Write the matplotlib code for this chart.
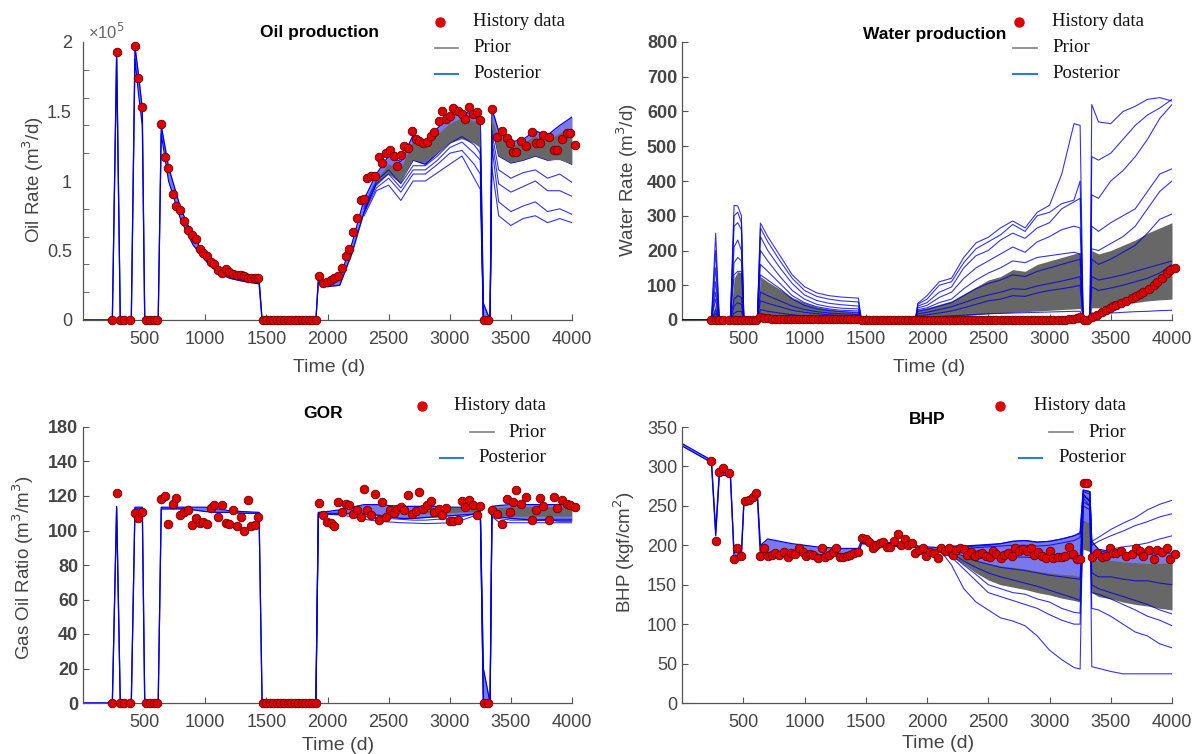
import numpy as np
import matplotlib
matplotlib.use("Agg")
import matplotlib.pyplot as plt
from matplotlib.lines import Line2D

nan = np.nan

# simulation output times (d), shared by every ensemble curve
t_sim = [0, 240, 275, 305, 395, 425, 455, 485, 505,
         615, 640, 700, 800, 900, 1000, 1100, 1200, 1300, 1440, 1465,
         1905, 1925, 2000, 2100, 2200, 2300, 2400, 2500, 2600, 2700, 2800, 2900, 3000, 3100, 3200, 3250,
         3275, 3330,
         3345, 3400, 3500, 3600, 3700, 3800, 3900, 4000]

# observed (history) report times (d)
hist_t = [240, 275, 303, 338, 385, 425, 452, 480, 515, 548,
          580, 608, 638, 672, 699, 734, 761, 794, 829, 862,
          889, 925, 957, 985, 1012, 1045, 1072, 1108, 1140, 1170,
          1198, 1230, 1257, 1290, 1317, 1347, 1375, 1407, 1434, 1470,
          1499, 1528, 1557, 1586, 1615, 1644, 1673, 1702, 1731, 1760,
          1789, 1818, 1847, 1876, 1905, 1931, 1967, 1994, 2027, 2056,
          2089, 2117, 2150, 2179, 2212, 2240, 2272, 2300, 2327, 2357,
          2390, 2422, 2449, 2480, 2512, 2540, 2567, 2600, 2629, 2662,
          2695, 2722, 2752, 2785, 2817, 2845, 2875, 2908, 2940, 2971,
          3003, 3030, 3066, 3099, 3126, 3159, 3189, 3222, 3249, 3282,
          3309, 3345, 3387, 3425, 3465, 3494, 3519, 3544, 3582, 3623,
          3670, 3708, 3739, 3761, 3811, 3849, 3881, 3918, 3959, 3981,
          4028]

# ---------------- oil rate (x1e5 m3/d) ----------------
oil_hist = [0, 1.93, 0, 0, 0, 1.97, 1.74, 1.535, 0, 0,
            0, 0, 1.41, 1.17, 1.09, 0.91, 0.82, 0.79, 0.71, 0.65,
            0.61, 0.58, 0.51, 0.48, 0.46, 0.415, 0.40, 0.36, 0.34, 0.37,
            0.345, 0.33, 0.325, 0.325, 0.32, 0.30, 0.30, 0.30, 0.30, 0,
            0, 0, 0, 0, 0, 0, 0, 0, 0, 0,
            0, 0, 0, 0, 0, 0.313, 0.265, 0.272, 0.29, 0.30,
            0.313, 0.373, 0.458, 0.51, 0.63, 0.735, 0.863, 0.867, 1.02, 1.036,
            1.036, 1.17, 1.13, 1.20, 1.22, 1.18, 1.11, 1.185, 1.25, 1.24,
            1.36, 1.30, 1.29, 1.27, 1.28, 1.325, 1.354, 1.43, 1.506, 1.446,
            1.47, 1.525, 1.506, 1.48, 1.446, 1.535, 1.48, 1.50, 1.44, 0,
            0, 1.518, 1.316, 1.36, 1.31, 1.27, 1.21, 1.21, 1.285, 1.25,
            1.35, 1.27, 1.27, 1.33, 1.32, 1.225, 1.225, 1.30, 1.345, 1.345,
            1.26]
oil_hi = [0, 0, 1.93, 0, 0, 1.97, 1.76, 1.52, 0,
          0, 1.40, 1.10, 0.80, 0.60, 0.47, 0.38, 0.34, 0.32, 0.30, 0,
          0, 0.30, 0.27, 0.31, 0.55, 0.87, 1.05, 1.18, 1.14, 1.33, 1.29, 1.38, 1.46, 1.50, 1.48, 1.45,
          0.12, 0,
          1.52, 1.36, 1.28, 1.30, 1.36, 1.33, 1.40, 1.46]
oil_lo = [0, 0, 1.88, 0, 0, 1.88, 1.62, 1.40, 0,
          0, 1.34, 1.00, 0.72, 0.54, 0.43, 0.34, 0.30, 0.28, 0.26, 0,
          0, 0.27, 0.24, 0.25, 0.48, 0.78, 0.98, 1.08, 1.00, 1.15, 1.12, 1.20, 1.28, 1.32, 1.28, 1.25,
          0, 0,
          1.40, 1.18, 1.13, 1.15, 1.18, 1.15, 1.16, 1.12]
oil_prior_hi = [nan] * 26 + [1.00, 1.12, 1.08, 1.28, 1.25, 1.33, 1.41, 1.45, 1.43, 1.40,
                             nan, nan, 1.45, 1.32, 1.25, 1.27, 1.32, 1.29, 1.34, 1.38]
oil_prior_lo = [nan] * 26 + [0.96, 1.05, 0.98, 1.15, 1.13, 1.20, 1.27, 1.30, 1.27, 1.24,
                             nan, nan, 1.38, 1.18, 1.13, 1.15, 1.18, 1.15, 1.15, 1.12]
oil_post = [
    [nan] * 25 + [0.75, 0.93, 0.97, 0.86, 1.00, 1.00, 1.06, 1.12, 1.18, 1.02, 0.94, 0, 0,
                  1.10, 0.75, 0.68, 0.73, 0.75, 0.70, 0.73, 0.70],
    [nan] * 25 + [0.77, 0.95, 1.02, 0.92, 1.05, 1.05, 1.12, 1.20, 1.22, 1.12, 1.05, 0, 0,
                  1.25, 0.85, 0.78, 0.82, 0.85, 0.78, 0.80, 0.76],
    [nan] * 25 + [0.80, 0.98, 1.05, 0.95, 1.08, 1.08, 1.15, 1.24, 1.28, 1.20, 1.15, 0, 0,
                  1.30, 0.98, 0.92, 0.96, 1.00, 0.93, 0.93, 0.89],
    [nan] * 25 + [0.82, 1.00, 1.08, 0.98, 1.11, 1.11, 1.18, 1.27, 1.32, 1.26, 1.20, 0, 0,
                  1.35, 1.08, 1.02, 1.06, 1.08, 1.02, 1.05, 0.99],
]

# ---------------- water rate (m3/d) ----------------
wat_hist = [0, 0, 0, 0, 0, 0, 0, 0, 0, 0,
            0, 0, 8, 6, 5, 4, 4, 3, 3, 2,
            2, 2, 2, 2, 2, 2, 2, 2, 2, 2,
            2, 2, 2, 2, 2, 2, 2, 2, 2, 0,
            0, 0, 0, 0, 0, 0, 0, 0, 0, 0,
            0, 0, 0, 0, 0, 1, 1, 1, 1, 1,
            1, 1, 1, 1, 1, 1, 1, 1, 1, 1,
            1, 1, 1, 1, 1, 1, 1, 1, 1, 1,
            1, 1, 1, 1, 1, 1, 1, 1, 1, 1,
            1, 1, 1, 1, 1, 2, 3, 5, 8, 0,
            0, 8, 15, 22, 30, 35, 40, 44, 50, 56,
            64, 70, 75, 80, 90, 100, 108, 120, 135, 145,
            150]
wat_prior_hi = [0, 0, 50, 0, 0, 120, 140, 135, 0,
                0, 125, 110, 88, 65, 50, 38, 32, 27, 23, 0,
                0, 30, 35, 45, 55, 75, 95, 115, 125, 145, 140, 160, 170, 180, 190, 195,
                0, 0,
                200, 190, 200, 215, 230, 250, 265, 280]
wat_prior_lo = [0, 0, 5, 0, 0, 10, 10, 10, 0,
                0, 15, 12, 10, 8, 6, 5, 5, 4, 4, 0,
                0, 5, 6, 8, 10, 12, 15, 18, 20, 22, 24, 26, 28, 30, 32, 33,
                0, 0,
                35, 35, 40, 45, 50, 55, 58, 60]
wat_post = [
    [0, 0, 250, 0, 0, 330, 328, 300, 0,
     0, 279, 240, 185, 130, 96, 78, 70, 66, 63, 0,
     0, 48, 70, 110, 120, 180, 222, 238, 265, 285, 265, 310, 330, 420, 565, 560,
     0, 0, 620, 570, 565, 600, 615, 635, 640, 630],
    [0, 0, 200, 0, 0, 300, 310, 280, 0,
     0, 265, 225, 170, 120, 85, 68, 60, 55, 52, 0,
     0, 45, 60, 100, 110, 165, 205, 225, 245, 275, 255, 300, 310, 335, 345, 400,
     0, 0, 470, 460, 480, 520, 560, 590, 610, 635],
    [0, 0, 150, 0, 0, 270, 280, 260, 0,
     0, 240, 200, 150, 105, 72, 56, 48, 44, 40, 0,
     0, 40, 50, 80, 95, 150, 185, 200, 230, 250, 235, 265, 280, 320, 340, 350,
     0, 0, 360, 350, 400, 430, 470, 520, 580, 620],
    [0, 0, 110, 0, 0, 210, 230, 200, 0,
     0, 200, 170, 125, 85, 60, 45, 38, 34, 32, 0,
     0, 35, 42, 65, 80, 120, 150, 170, 190, 210, 195, 225, 240, 260, 270, 265,
     0, 0, 270, 255, 280, 300, 320, 370, 420, 435],
    [0, 0, 80, 0, 0, 165, 180, 170, 0,
     0, 160, 140, 105, 70, 50, 38, 32, 28, 26, 0,
     0, 30, 35, 50, 60, 90, 115, 135, 150, 170, 165, 180, 185, 190, 195, 190,
     0, 0, 205, 200, 220, 240, 270, 320, 370, 400],
    [0, 0, 60, 0, 0, 130, 140, 140, 0,
     0, 130, 115, 90, 60, 42, 32, 27, 24, 22, 0,
     0, 25, 30, 40, 50, 70, 90, 105, 115, 130, 125, 140, 150, 160, 170, 175,
     0, 0, 175, 160, 175, 195, 215, 250, 290, 305],
    [0, 0, 30, 0, 0, 60, 70, 65, 0,
     0, 80, 70, 55, 40, 30, 24, 20, 18, 16, 0,
     0, 18, 22, 30, 38, 50, 62, 72, 80, 90, 88, 98, 105, 112, 120, 125,
     0, 0, 125, 115, 122, 130, 140, 150, 160, 170],
    [0, 0, 20, 0, 0, 40, 50, 45, 0,
     0, 55, 48, 38, 28, 22, 18, 15, 13, 12, 0,
     0, 12, 15, 20, 26, 35, 45, 55, 60, 70, 68, 78, 85, 90, 96, 100,
     0, 0, 95, 85, 92, 100, 110, 120, 135, 160],
    [0, 0, 10, 0, 0, 20, 25, 25, 0,
     0, 30, 25, 20, 15, 12, 10, 9, 8, 8, 0,
     0, 8, 9, 10, 12, 14, 16, 18, 19, 20, 21, 22, 23, 24, 25, 25,
     0, 0, 20, 18, 20, 22, 24, 25, 27, 28],
]

# ---------------- gas oil ratio (m3/m3) ----------------
gor_hist = [0, 122, 0, 0, 0, 110, 107, 111, 0, 0,
            0, 0, 118, 120, 104, 115.5, 119, 109, 110.5, 112,
            103, 107.5, 104.5, 105, 103.5, 113, 115, 108, 115, 104.5,
            103.5, 112, 102.5, 108, 99.5, 117.5, 102.5, 103, 108, 0,
            0, 0, 0, 0, 0, 0, 0, 0, 0, 0,
            0, 0, 0, 0, 0, 116, 109, 105, 104.5, 102.4,
            116.5, 110.7, 115.6, 114.6, 109.8, 112, 107.8, 124.3, 112, 109,
            121.4, 105.9, 116.5, 107.8, 111.7, 110.1, 112.7, 113.6, 111.7, 120.8,
            109.8, 111.1, 122.3, 112.7, 115, 116.9, 110.7, 112.7, 109.2, 113,
            105.5, 105.5, 105.9, 117.1, 113.6, 117.9, 114.6, 108.8, 114, 0,
            0, 111.7, 109.8, 104, 118.5, 110.7, 116.5, 123.3, 115.2, 119.4,
            105.9, 112, 118.8, 114, 105.9, 119.4, 113.2, 117.9, 115.6, 114.6,
            113.6]
gor_hi = [0, 0, 114, 0, 0, 113.5, 113.5, 113.5, 0,
          0, 113.5, 113.5, 113.5, 113.5, 113.5, 112.5, 111.5, 111, 110.5, 0,
          0, 110.5, 111, 112, 113.5, 115, 115, 114.5, 114, 114, 114, 114, 113.5, 113.5, 113.5, 114,
          20, 0,
          114, 114.5, 115, 115, 115, 115, 115, 115]
gor_lo = [0, 0, 113, 0, 0, 112.5, 112.5, 112.5, 0,
          0, 112.5, 112.5, 112.5, 112, 111, 110.5, 110.5, 110, 110, 0,
          0, 109.5, 109.5, 109.5, 110, 110, 109, 108, 107, 107, 107.5, 108, 108.5, 109, 109.5, 110,
          0, 0,
          110, 108, 107, 106.5, 106, 106, 105.5, 105.5]
gor_prior_hi = [nan] * 30 + [113, 113, 113, 113, 113, 113, nan, nan,
                             113, 113, 113.5, 113.5, 113.5, 113.5, 113.5, 113.5]
gor_prior_lo = [nan] * 30 + [110, 110, 110, 110.5, 110.5, 111, nan, nan,
                             109, 108.5, 108, 108, 108, 108, 108, 108]
gor_post = [
    [nan] * 20 + [0, 109.5, 109.5, 109, 108, 106.5, 105.5, 105, 104.5, 104.3, 104, 104.2, 104.5, 106, 108.5, 110,
                  0, 0, 108, 105, 104.5, 104.5, 104.5, 104.5, 104.5, 104.5],
    [nan] * 20 + [0, 110, 110, 110, 109.5, 108.5, 107.5, 107, 106.5, 106, 106, 106.5, 107, 108, 109.5, 111,
                  0, 0, 110, 107, 106, 106, 106, 106.5, 106.5, 106.5],
]

# ---------------- bottom hole pressure (kgf/cm2) ----------------
bhp_hist = [307, 205, 293, 298, 292, 183, 196, 186, 256, 257,
            261, 266, 186, 196, 186, 187.5, 190.5, 187.5, 192, 185.5,
            189.8, 189, 197, 192, 186.4, 189, 187.5, 184, 197, 185.5,
            187.5, 192, 197, 185.5, 184.7, 186.4, 187.5, 189.8, 191, 209,
            207.5, 204.5, 196, 200, 202.5, 204.5, 198, 198, 206, 214,
            200, 208.5, 200, 202.5, 190.5, 194, 197, 186.4, 192, 190,
            184.3, 197, 193, 197, 187.5, 194, 197, 195, 188, 192,
            186, 189, 190, 187, 185, 193, 189, 184, 188, 190,
            187, 196, 193, 195, 193, 196, 188, 191, 186, 184,
            193, 184, 185, 185, 186, 198, 189, 183, 182, 279,
            279, 185, 190, 185, 186, 196, 190, 190, 193, 186,
            189, 196, 193, 186, 194, 183, 194, 191, 196, 182,
            189]
bhp_hi = [329, 308, 218, 294, 290, 190, 193, 192, 256,
          266, 200, 208, 205, 202, 200, 198, 197, 196, 196, 206,
          201, 199, 198, 197, 199, 199, 200, 201, 202, 205, 206, 204, 205, 208, 212, 216,
          270, 268,
          205, 195, 192, 190, 190, 188, 190, 190]
bhp_lo = [326, 305, 212, 290, 287, 185, 187, 187, 252,
          262, 185, 186, 188, 188, 188, 188, 188, 188, 189, 202,
          197, 195, 194, 192, 185, 180, 176, 172, 168, 166, 164, 160, 158, 155, 152, 150,
          230, 225,
          170, 165, 160, 158, 155, 153, 152, 150]
bhp_prior_hi = [nan] * 24 + [190, 186, 181, 177, 174, 172, 170, 167, 165, 163, 162, 160,
                             232, 228, 182, 180, 181, 179, 178, 177, 177, 178]
bhp_prior_lo = [nan] * 24 + [186, 176, 165, 156, 150, 147, 144, 140, 137, 133, 130, 128,
                             195, 192, 140, 135, 132, 128, 125, 123, 120, 118]
bhp_post = [
    [nan] * 23 + [195, 175, 145, 128, 118, 108, 104, 98, 85, 67, 55, 45, 43,
                  265, 255, 46, 44, 40, 37, 37, 37, 37, 37],
    [nan] * 23 + [195, 185, 170, 155, 140, 135, 130, 125, 120, 112, 105, 100, 100,
                  265, 255, 120, 118, 110, 100, 90, 85, 75, 70],
    [nan] * 23 + [195, 188, 175, 163, 150, 145, 140, 138, 132, 128, 120, 115, 114,
                  260, 250, 140, 138, 132, 125, 118, 110, 105, 98],
    [nan] * 23 + [195, 190, 180, 172, 165, 160, 156, 152, 148, 143, 138, 133, 130,
                  250, 245, 150, 145, 140, 135, 130, 125, 118, 113],
    [nan] * 23 + [195, 197, 198, 199, 200, 202, 205, 206, 204, 205, 208, 212, 215,
                  270, 268, 205, 210, 220, 228, 235, 245, 252, 257],
    [nan] * 23 + [195, 196, 196, 197, 198, 199, 200, 200, 199, 200, 203, 206, 210,
                  268, 265, 200, 205, 212, 218, 225, 230, 236, 240],
    [nan] * 23 + [195, 194, 192, 190, 188, 186, 185, 185, 184, 183, 183, 183, 183,
                  262, 258, 190, 190, 195, 198, 200, 203, 208, 212],
    [nan] * 23 + [195, 192, 186, 180, 176, 172, 170, 168, 165, 162, 160, 158, 157,
                  255, 250, 165, 160, 160, 157, 155, 155, 152, 150],
]

x_ticks = [500, 1000, 1500, 2000, 2500, 3000, 3500, 4000]

BLUE = "#0000e8"
BAND = "#2020e0"
GREY = "#676767"
RED = "#e00000"
TXT = "#444444"

plt.rcParams["font.family"] = ["Liberation Sans", "DejaVu Sans"]
W, H = 1192, 754
fig = plt.figure(figsize=(W / 100, H / 100), dpi=100)


def fx(px):
    return px / W


def fy(py):
    return 1 - py / H


def make_ax(l, r, t, b):
    ax = fig.add_axes([fx(l), fy(b), fx(r) - fx(l), fy(t) - fy(b)])
    for s in ("top", "right"):
        ax.spines[s].set_visible(False)
    for s in ("left", "bottom"):
        ax.spines[s].set_color("#555555"); ax.spines[s].set_linewidth(0.9)
    ax.set_xlim(0, 4000)
    ax.set_xticks(x_ticks)
    ax.tick_params(direction="in", length=4, width=0.8, colors="#555555",
                   labelsize=13, labelcolor=TXT)
    ax.tick_params(axis="x", pad=8)
    return ax


def ensemble(ax, hi=None, lo=None, prior_hi=None, prior_lo=None, members=()):
    if hi is not None:
        ax.fill_between(t_sim, lo, hi, color=BAND, alpha=0.6, lw=0, zorder=1)
        ax.plot(t_sim, hi, color=BLUE, lw=0.9, zorder=2)
        ax.plot(t_sim, lo, color=BLUE, lw=0.9, zorder=2)
    if prior_hi is not None:
        ax.fill_between(t_sim, prior_lo, prior_hi, color=GREY, lw=0, zorder=3)
    for m in members:
        ax.plot(t_sim, m, color=BLUE, lw=0.8, alpha=0.8, zorder=4)


def history(ax, vals):
    ax.plot(hist_t, vals, "o", mfc=RED, mec="#6a0000", mew=0.6, ms=6.2,
            zorder=6, clip_on=False)


def legend(xm, prior_x, post_x, xt, ys, ha="left"):
    fig.add_artist(Line2D([fx(xm)], [fy(ys[0])], marker="o", color=RED, ms=6.5,
                          transform=fig.transFigure))
    fig.add_artist(Line2D([fx(prior_x[0]), fx(prior_x[1])], [fy(ys[1])] * 2, color="#8a8a8a",
                          lw=1.3, transform=fig.transFigure))
    fig.add_artist(Line2D([fx(post_x[0]), fx(post_x[1])], [fy(ys[2])] * 2, color="#2a7be6",
                          lw=1.5, transform=fig.transFigure))
    for y, s in zip(ys, ["History data", "Prior", "Posterior"]):
        fig.text(fx(xt), fy(y), s, ha=ha, va="center", fontsize=13.5,
                 family="Liberation Serif", color="#111111")


def label(x, y, s, rot=0, size=13.5):
    fig.text(fx(x), fy(y), s, ha="center", va="center", rotation=rot, fontsize=size, color=TXT)


def title(x, y, s):
    fig.text(fx(x), fy(y), s, ha="center", va="center", fontsize=12.5, fontweight="bold")


# Oil production
ax1 = make_ax(83, 572, 42, 320)
ensemble(ax1, oil_hi, oil_lo, oil_prior_hi, oil_prior_lo, oil_post)
history(ax1, oil_hist)
ax1.set_ylim(0, 2)
ax1.set_yticks([0, 0.5, 1, 1.5, 2], ["0", "0.5", "1", "1.5", "2"])
ax1.set_yticks(np.arange(0.2, 2.0, 0.2), minor=True)
ax1.tick_params(axis="y", which="major", length=0, pad=8)
ax1.tick_params(axis="y", which="minor", direction="in", length=4, colors="#555555")
fig.text(fx(88), fy(32), "×10$^5$", fontsize=12, color="#666666", va="center")
title(319, 32, "Oil production")
legend(440, (435, 458), (435, 458), 473, (22, 48, 74))
label(33, 180, "Oil Rate (m$^3$/d)", rot=90)
label(329, 367, "Time (d)", size=14)

# Water production
ax2 = make_ax(682, 1172, 42, 320)
ensemble(ax2, prior_hi=wat_prior_hi, prior_lo=wat_prior_lo, members=wat_post)
history(ax2, wat_hist)
ax2.set_ylim(0, 800)
ax2.set_yticks(range(0, 801, 100))
for lab in ax2.get_yticklabels():
    lab.set_fontweight("bold")
title(935, 35, "Water production")
legend(1019, (1013, 1037), (1013, 1037), 1052, (22, 48, 74))
label(627, 180, "Water Rate (m$^3$/d)", rot=90)
label(929, 367, "Time (d)", size=14)

# GOR
ax3 = make_ax(83, 572, 427, 703)
ensemble(ax3, gor_hi, gor_lo, gor_prior_hi, gor_prior_lo, gor_post)
history(ax3, gor_hist)
ax3.set_ylim(0, 160)
ax3.set_yticks(range(0, 161, 20), ["0", "20", "40", "60", "80", "100", "120", "140", "180"])
for lab in ax3.get_yticklabels():
    lab.set_fontweight("bold")
title(323, 413, "GOR")
legend(422, (470, 494), (440, 463), 546, (406, 432, 458), ha="right")
label(23, 568, "Gas Oil Ratio (m$^3$/m$^3$)", rot=90)
label(338, 745, "Time (d)", size=14)

# BHP
ax4 = make_ax(682, 1172, 427, 703)
ensemble(ax4, bhp_hi, bhp_lo, bhp_prior_hi, bhp_prior_lo, bhp_post)
history(ax4, bhp_hist)
ax4.set_ylim(0, 350)
ax4.set_yticks(range(0, 351, 50))
title(927, 420, "BHP")
legend(1000, (1049, 1073), (1019, 1042), 1126, (406, 432, 458), ha="right")
label(624, 552, "BHP (kgf/cm$^2$)", rot=90)
label(938, 743, "Time (d)", size=14)

fig.savefig("out.png", dpi=100)
